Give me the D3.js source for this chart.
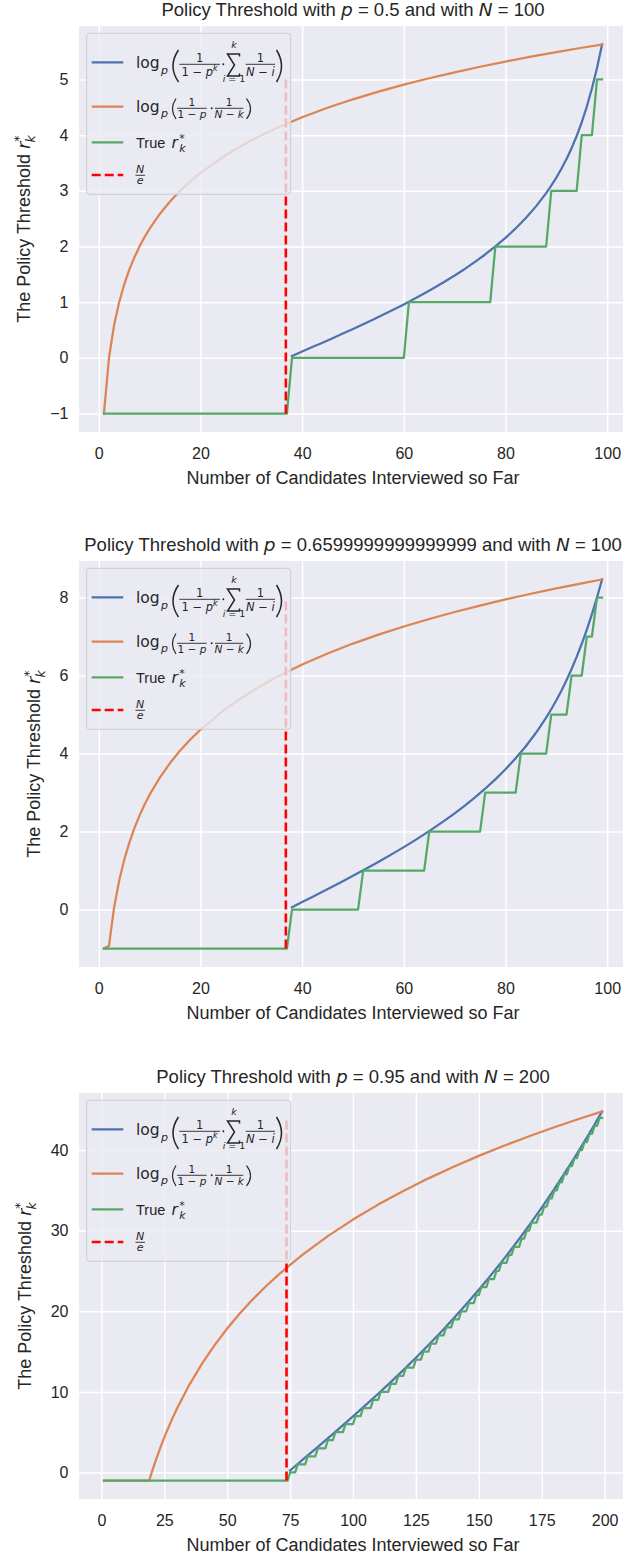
<!DOCTYPE html>
<html><head><meta charset="utf-8">
<script src="https://cdn.jsdelivr.net/npm/d3@7"></script>
<style>body{margin:0;background:#fff}svg{display:block}</style>
</head><body>
<svg id="c" width="623" height="1556"></svg>
<script>
// ---------------- DATA ----------------
const pLabels = ["0.5", "0.6599999999999999", "0.95"];
const nLabels = ["100", "100", "200"];
const xTicks1 = [0, 20, 40, 60, 80, 100];
const xTicks2 = [0, 20, 40, 60, 80, 100];
const xTicks3 = [0, 25, 50, 75, 100, 125, 150, 175, 200];
const yTicks1 = [-1, 0, 1, 2, 3, 4, 5];
const yTicks2 = [0, 2, 4, 6, 8];
const yTicks3 = [0, 10, 20, 30, 40];
const nOverE = [36.79, 36.79, 73.58];
const dashTop = [5, 8, 44];

// [k, value]
const blue1 = [[38,0.035],[40,0.114],[42,0.194],[44,0.273],[46,0.354],[48,0.436],[50,0.518],[52,0.603],[54,0.689],[56,0.777],[58,0.867],[60,0.960],[62,1.056],[64,1.155],[66,1.258],[68,1.366],[70,1.479],[72,1.597],[74,1.723],[76,1.857],[78,2.001],[80,2.156],[82,2.325],[84,2.512],[86,2.721],[88,2.960],[89,3.093],[90,3.238],[91,3.396],[92,3.571],[93,3.766],[94,3.984],[95,4.232],[96,4.514],[97,4.837],[98,5.207],[99,5.629]];
const orange1 = [[1,-1],[2,0],[3,0.585],[4,1],[5,1.322],[6,1.585],[7,1.807],[8,2],[9,2.170],[10,2.322],[12,2.585],[14,2.807],[16,3],[18,3.170],[20,3.322],[25,3.644],[30,3.907],[35,4.129],[40,4.322],[45,4.492],[50,4.644],[55,4.781],[60,4.907],[65,5.022],[70,5.129],[75,5.229],[80,5.322],[85,5.409],[90,5.492],[95,5.570],[99,5.629]];
// value at k = 1..99
const green1 = [-1,-1,-1,-1,-1,-1,-1,-1,-1,-1,-1,-1,-1,-1,-1,-1,-1,-1,-1,-1,-1,-1,-1,-1,-1,-1,-1,-1,-1,-1,-1,-1,-1,-1,-1,-1,-1,
 0,0,0,0,0,0,0,0,0,0,0,0,0,0,0,0,0,0,0,0,0,0,0,
 1,1,1,1,1,1,1,1,1,1,1,1,1,1,1,1,1,
 2,2,2,2,2,2,2,2,2,2,2,
 3,3,3,3,3,3,
 4,4,4,
 5,5];

const blue2 = [[38,0.059],[40,0.191],[42,0.323],[44,0.456],[46,0.591],[48,0.726],[50,0.865],[52,1.005],[54,1.149],[56,1.295],[58,1.446],[60,1.601],[62,1.761],[64,1.926],[66,2.099],[68,2.278],[70,2.467],[72,2.665],[74,2.875],[76,3.098],[78,3.338],[80,3.596],[82,3.877],[84,4.187],[86,4.532],[88,4.921],[89,5.136],[90,5.365],[91,5.612],[92,5.878],[93,6.166],[94,6.477],[95,6.814],[96,7.179],[97,7.575],[98,8.002],[99,8.463]];
const orange2 = [[1,-1],[2,-0.928],[3,0.048],[4,0.740],[5,1.277],[6,1.716],[7,2.087],[8,2.408],[9,2.692],[10,2.945],[12,3.384],[14,3.755],[16,4.076],[18,4.360],[20,4.613],[25,5.150],[30,5.589],[35,5.960],[40,6.282],[45,6.565],[50,6.819],[55,7.048],[60,7.257],[65,7.450],[70,7.628],[75,7.794],[80,7.950],[85,8.096],[90,8.233],[95,8.363],[99,8.463]];
const green2 = [-1,-1,-1,-1,-1,-1,-1,-1,-1,-1,-1,-1,-1,-1,-1,-1,-1,-1,-1,-1,-1,-1,-1,-1,-1,-1,-1,-1,-1,-1,-1,-1,-1,-1,-1,-1,-1,
 0,0,0,0,0,0,0,0,0,0,0,0,0,0,
 1,1,1,1,1,1,1,1,1,1,1,1,1,
 2,2,2,2,2,2,2,2,2,2,2,
 3,3,3,3,3,3,3,
 4,4,4,4,4,4,
 5,5,5,5,
 6,6,6,
 7,7,
 8,8];

const blue3 = [[75,0.262],[76,0.526],[78,1.054],[80,1.583],[85,2.908],[90,4.243],[95,5.591],[100,6.959],[105,8.350],[110,9.769],[115,11.220],[120,12.707],[125,14.237],[130,15.812],[135,17.438],[140,19.120],[145,20.863],[150,22.672],[155,24.551],[160,26.506],[165,28.540],[170,30.659],[175,32.867],[180,35.166],[185,37.562],[186,38.052],[188,39.045],[190,40.054],[191,40.564],[192,41.080],[193,41.597],[194,42.120],[195,42.646],[196,43.177],[197,43.711],[198,44.250],[199,44.793]];
const orange3 = [[1,-1],[19,-1],[20,0],[21,0.951],[22,1.858],[23,2.725],[24,3.554],[25,4.350],[26,5.115],[28,6.560],[30,7.905],[35,10.910],[40,13.513],[45,15.810],[50,17.864],[55,19.722],[60,21.418],[65,22.979],[70,24.424],[75,25.769],[80,27.027],[90,29.323],[100,31.377],[110,33.235],[120,34.932],[130,36.492],[140,37.937],[150,39.282],[160,40.540],[170,41.722],[180,42.836],[190,43.891],[199,44.793]];
const green3 = [-1,-1,-1,-1,-1,-1,-1,-1,-1,-1,-1,-1,-1,-1,-1,-1,-1,-1,-1,-1,-1,-1,-1,-1,-1,-1,-1,-1,-1,-1,-1,-1,-1,-1,-1,-1,-1,-1,-1,-1,-1,-1,-1,-1,-1,-1,-1,-1,-1,-1,-1,-1,-1,-1,-1,-1,-1,-1,-1,-1,-1,-1,-1,-1,-1,-1,-1,-1,-1,-1,-1,-1,-1,-1,
 0,0,0, 1,1,1,1, 2,2,2,2, 3,3,3,3, 4,4,4, 5,5,5,5, 6,6,6,6, 7,7,7, 8,8,8,8, 9,9,9,
 10,10,10,10, 11,11,11, 12,12,12, 13,13,13,13, 14,14,14, 15,15,15, 16,16,16, 17,17,17,
 18,18,18, 19,19,19, 20,20,20, 21,21,21, 22,22, 23,23,23, 24,24,24, 25,25, 26,26,26,
 27,27, 28,28,28, 29,29, 30,30, 31,31,31, 32,32, 33,33, 34,34, 35,35, 36,36, 37,37,
 38,38, 39,39, 40,40, 41,41, 42,42, 43,43, 44,44];

// ---------------- STYLE ----------------
const svg = d3.select('#c');
const L = 79, W = 548, H = 406;
const TOPS = [26, 561, 1093];
const BG = '#EAEAF2', INK = '#262626';
const COL = {blue:'#4C72B0', orange:'#DD8452', green:'#55A868', red:'#FF0000'};
const SF = "'Liberation Sans', Arial, sans-serif";
const MF = "'DejaVu Sans', sans-serif";
const LW = 2.25;

const panels = [
  {p:pLabels[0], n:nLabels[0], xt:xTicks1, yt:yTicks1, blue:blue1, orange:orange1, green:green1, ne:nOverE[0], dt:dashTop[0]},
  {p:pLabels[1], n:nLabels[1], xt:xTicks2, yt:yTicks2, blue:blue2, orange:orange2, green:green2, ne:nOverE[1], dt:dashTop[1]},
  {p:pLabels[2], n:nLabels[2], xt:xTicks3, yt:yTicks3, blue:blue3, orange:orange3, green:green3, ne:nOverE[2], dt:dashTop[2]}
];

function T(g, x, y, s, o) {
  o = o || {};
  return g.append('text').attr('x', x).attr('y', y).text(s)
    .attr('font-family', o.f || MF).attr('font-size', o.s || 10)
    .attr('font-style', o.i ? 'italic' : 'normal')
    .attr('text-anchor', o.a || 'start').attr('fill', INK);
}
function span(t, s, o) {
  o = o || {};
  const sp = t.append('tspan').text(s).attr('font-family', o.f || MF);
  if (o.i) sp.attr('font-style', 'italic');
  if (o.s) sp.attr('font-size', o.s);
  if (o.dy) sp.attr('dy', o.dy);
  if (o.dx) sp.attr('dx', o.dx);
  return sp;
}
function paren(g, xl, xr, t, b, sw, right) {
  const mid = (t + b) / 2;
  let d;
  if (!right) d = `M${xr},${t} Q${2*xl - xr},${mid} ${xr},${b}`;
  else d = `M${xl},${t} Q${2*xr - xl},${mid} ${xl},${b}`;
  g.append('path').attr('d', d).attr('fill', 'none').attr('stroke', INK).attr('stroke-width', sw);
}
function bar(g, x1, x2, y) {
  g.append('line').attr('x1', x1).attr('x2', x2).attr('y1', y).attr('y2', y)
    .attr('stroke', INK).attr('stroke-width', 0.9);
}

function drawLegend(g) {
  g.append('rect').attr('x', 7.7).attr('y', 7.3).attr('width', 204).attr('height', 161).attr('rx', 3)
    .attr('fill', BG).attr('fill-opacity', 0.8).attr('stroke', '#CCCCCC').attr('stroke-width', 1);
  const hy = [36.3, 80.7, 116.3, 149];
  const hc = [COL.blue, COL.orange, COL.green, COL.red];
  hy.forEach((yy, i) => {
    const ln = g.append('line').attr('x1', 12.7).attr('x2', 44.3).attr('y1', yy).attr('y2', yy)
      .attr('stroke', hc[i]).attr('stroke-width', i === 3 ? 2.6 : LW);
    if (i === 3) ln.attr('stroke-dasharray', '9,4');
  });
  // entry 1
  T(g, 57, 42.3, 'log', {s:15.5});
  T(g, 82, 47.5, 'p', {s:11, i:1});
  paren(g, 94, 99.5, 24, 56, 1.5, false);
  bar(g, 100.3, 141, 38.3);
  T(g, 120.6, 35.8, '1', {s:11.5, a:'middle'});
  let t = T(g, 120.6, 49.8, '', {s:11.5, a:'middle'});
  span(t, '1 \u2212 '); span(t, 'p', {i:1}); span(t, 'k', {i:1, s:8, dy:-4.5});
  g.append('circle').attr('cx', 144.3).attr('cy', 38.3).attr('r', 1).attr('fill', INK);
  g.append('path').attr('d', 'M160.5,30.5 L160.5,28 L148.5,28 L155.5,39 L148.5,50 L160.5,50 L160.5,47.5')
    .attr('fill', 'none').attr('stroke', INK).attr('stroke-width', 1.5).attr('stroke-linejoin', 'miter');
  T(g, 155, 21.5, 'k', {s:9.5, i:1, a:'middle'});
  t = T(g, 155, 56, '', {s:9.5, a:'middle'});
  span(t, 'i', {i:1}); span(t, ' = 1');
  bar(g, 166.7, 196, 38.3);
  T(g, 181.4, 35.8, '1', {s:11.5, a:'middle'});
  t = T(g, 181.4, 49.8, '', {s:11.5, a:'middle'});
  span(t, 'N', {i:1}); span(t, ' \u2212 '); span(t, 'i', {i:1});
  paren(g, 197.5, 202.5, 24, 56, 1.5, true);
  // entry 2
  T(g, 57, 85.5, 'log', {s:15.5});
  T(g, 82, 90.7, 'p', {s:11, i:1});
  paren(g, 93.5, 97, 72.5, 93, 1.2, false);
  bar(g, 98, 127.7, 82.3);
  T(g, 112.9, 80.2, '1', {s:10.5, a:'middle'});
  t = T(g, 112.9, 92, '', {s:10.5, a:'middle'});
  span(t, '1 \u2212 '); span(t, 'p', {i:1});
  g.append('circle').attr('cx', 132.7).attr('cy', 82.3).attr('r', 1).attr('fill', INK);
  bar(g, 136, 164.3, 82.3);
  T(g, 150.2, 80.2, '1', {s:10.5, a:'middle'});
  t = T(g, 150.2, 92, '', {s:10.5, a:'middle'});
  span(t, 'N', {i:1}); span(t, ' \u2212 '); span(t, 'k', {i:1});
  paren(g, 167.5, 171.5, 72.5, 93, 1.2, true);
  // entry 3
  T(g, 57, 121.5, 'True', {s:14.5, f:SF});
  T(g, 92.5, 121.5, 'r', {s:15.5, i:1});
  T(g, 100.3, 115.5, '*', {s:11});
  T(g, 100.3, 125.5, 'k', {s:11, i:1});
  // entry 4
  T(g, 61.2, 146.5, 'N', {s:11, i:1, a:'middle'});
  bar(g, 56.5, 66, 149.3);
  T(g, 61.2, 157.8, 'e', {s:11, i:1, a:'middle'});
}

panels.forEach((P, idx) => {
  const top = TOPS[idx];
  const nMax = P.green.length;
  const x0 = 1, x1 = nMax;
  const xr = x1 - x0;
  const x = d3.scaleLinear().domain([x0 - 0.05 * xr, x1 + 0.05 * xr]).range([L, L + W]);
  const yMin = -1;
  const yMax = d3.max(P.orange, d => d[1]);
  const yr = yMax - yMin;
  const y = d3.scaleLinear().domain([yMin - 0.05 * yr, yMax + 0.05 * yr]).range([top + H, top]);

  const g = svg.append('g');
  g.append('rect').attr('x', L).attr('y', top).attr('width', W).attr('height', H).attr('fill', BG);

  const cid = 'clip' + idx;
  svg.append('clipPath').attr('id', cid).append('rect').attr('x', L).attr('y', top).attr('width', W).attr('height', H);

  // axes
  const gx = g.append('g').attr('transform', `translate(0,${top + H})`)
    .call(d3.axisBottom(x).tickValues(P.xt).tickSize(-H).tickPadding(16).tickFormat(d3.format('d')));
  const gy = g.append('g').attr('transform', `translate(${L},0)`)
    .call(d3.axisLeft(y).tickValues(P.yt).tickSize(-W).tickPadding(10.5).tickFormat(d => (d < 0 ? '\u2212' + Math.abs(d) : '' + d)));
  [gx, gy].forEach(a => {
    a.select('.domain').remove();
    a.selectAll('line').attr('stroke', '#fff').attr('stroke-width', 1.5);
    a.selectAll('text').attr('fill', INK).attr('font-family', SF).attr('font-size', 16);
  });
  gx.selectAll('text').attr('dy', '0.71em');

  const plot = g.append('g').attr('clip-path', `url(#${cid})`);
  const line = d3.line().x(d => x(d[0])).y(d => y(d[1]));
  plot.append('path').datum(P.blue).attr('d', line).attr('fill', 'none').attr('stroke', COL.blue)
    .attr('stroke-width', LW).attr('stroke-linejoin', 'round').attr('stroke-linecap', 'square');
  plot.append('path').datum(P.orange).attr('d', line).attr('fill', 'none').attr('stroke', COL.orange)
    .attr('stroke-width', LW).attr('stroke-linejoin', 'round').attr('stroke-linecap', 'square');
  plot.append('path').datum(P.green.map((v, i) => [i + 1, v])).attr('d', line).attr('fill', 'none').attr('stroke', COL.green)
    .attr('stroke-width', LW).attr('stroke-linejoin', 'round').attr('stroke-linecap', 'square');
  plot.append('line').attr('x1', x(P.ne)).attr('x2', x(P.ne)).attr('y1', y(-1)).attr('y2', y(P.dt))
    .attr('stroke', COL.red).attr('stroke-width', 2.6).attr('stroke-dasharray', '9,4');

  // legend
  drawLegend(g.append('g').attr('transform', `translate(${L},${top})`));

  // title
  const tt = g.append('text').attr('x', L + W / 2).attr('y', top - 10).attr('text-anchor', 'middle')
    .attr('font-size', 18.5).attr('fill', INK);
  span(tt, 'Policy Threshold with ', {f:SF});
  span(tt, 'p', {i:1}); span(tt, ' = ' + P.p, {f:SF});
  span(tt, ' and with ', {f:SF});
  span(tt, 'N', {i:1}); span(tt, ' = ' + P.n, {f:SF});

  // x label
  g.append('text').attr('x', L + W / 2).attr('y', top + H + 51.5).attr('text-anchor', 'middle')
    .attr('font-family', SF).attr('font-size', 18).attr('fill', INK).text('Number of Candidates Interviewed so Far');

  // y label
  const tl = gy.node().getBBox();
  const lx = L + tl.x - 20;
  const yl = g.append('text').attr('transform', `translate(${lx},${top + H / 2}) rotate(-90)`)
    .attr('text-anchor', 'middle').attr('font-size', 18).attr('fill', INK);
  span(yl, 'The Policy Threshold ', {f:SF});
  span(yl, 'r', {i:1});
  span(yl, '*', {s:12.5, dy:-7});
  span(yl, 'k', {i:1, s:12.5, dx:-7, dy:12});
});
</script>
</body></html>
